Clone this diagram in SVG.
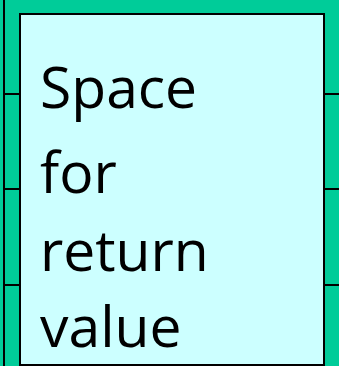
<svg xmlns="http://www.w3.org/2000/svg" width="339" height="366" viewBox="0 0 339 366">
<style>
.ln{stroke:#000;stroke-width:2;fill:none}
.t{font-family:"Open Sans","DejaVu Sans",sans-serif;font-size:57px;fill:#000}
</style>
<rect x="0" y="0" width="339" height="366" fill="#00CC99"/>
<g id="stack-lines">
<line class="ln" x1="4" y1="0" x2="4" y2="366"/>
<line class="ln" x1="4" y1="94" x2="20" y2="94"/>
<line class="ln" x1="4" y1="189" x2="20" y2="189"/>
<line class="ln" x1="4" y1="285" x2="20" y2="285"/>
<line class="ln" x1="324" y1="94" x2="339" y2="94"/>
<line class="ln" x1="324" y1="189" x2="339" y2="189"/>
<line class="ln" x1="324" y1="285" x2="339" y2="285"/>
</g>
<g id="return-box">
<rect x="20" y="14" width="304" height="351" fill="#CCFFFF" stroke="#000" stroke-width="2"/>
<text class="t" x="40" y="108">Space</text>
<text class="t" x="40" y="193">for</text>
<text class="t" x="40" y="271">return</text>
<text class="t" x="40" y="347">value</text>
</g>
</svg>
